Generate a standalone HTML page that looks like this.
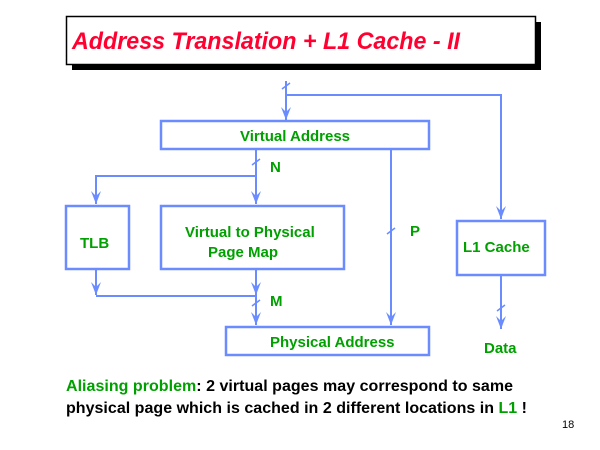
<!DOCTYPE html>
<html><head><style>
html,body{margin:0;padding:0;background:#fff;width:600px;height:450px;overflow:hidden}
svg{display:block}
text{font-family:"Liberation Sans",sans-serif;font-weight:bold}
</style></head><body>
<svg width="600" height="450" viewBox="0 0 600 450" xmlns="http://www.w3.org/2000/svg">
<defs>
<marker id="a" markerWidth="14" markerHeight="12" refX="13" refY="6" orient="auto" markerUnits="userSpaceOnUse">
<path d="M0,1 L13,6 L0,11 L5,6 Z" fill="#6a8cff"/>
</marker>
</defs>
<rect x="72" y="22" width="469" height="48" fill="#000"/>
<rect x="66.5" y="16.5" width="469" height="48" fill="#fff" stroke="#000" stroke-width="1.5"/>
<text x="72" y="49" font-size="24" font-style="italic" fill="#ff0030" textLength="388" lengthAdjust="spacingAndGlyphs">Address Translation + L1 Cache - II</text>
<g stroke="#6a8cff" stroke-width="2" fill="none">
<rect x="161" y="121" width="268" height="28" stroke-width="2.5"/>
<rect x="66" y="206" width="63" height="63" stroke-width="2.5"/>
<rect x="161" y="206" width="183" height="63" stroke-width="2.5"/>
<rect x="457" y="221" width="88" height="54" stroke-width="2.5"/>
<rect x="226" y="327" width="203" height="28" stroke-width="2.5"/>
<line x1="286" y1="81" x2="286" y2="120" marker-end="url(#a)"/>
<polyline points="286,95 501,95 501,219" marker-end="url(#a)"/>
<line x1="256" y1="149" x2="256" y2="204" marker-end="url(#a)"/>
<polyline points="256,176 96,176 96,204" marker-end="url(#a)"/>
<line x1="96" y1="269" x2="96" y2="295" marker-end="url(#a)"/>
<line x1="96" y1="296" x2="256" y2="296"/>
<line x1="256" y1="269" x2="256" y2="295" marker-end="url(#a)"/>
<line x1="256" y1="295" x2="256" y2="325" marker-end="url(#a)"/>
<line x1="391" y1="149" x2="391" y2="325" marker-end="url(#a)"/>
<line x1="501" y1="275" x2="501" y2="329" marker-end="url(#a)"/>
<line x1="282" y1="89" x2="290" y2="83" stroke-width="1.5"/>
<line x1="252" y1="165" x2="260" y2="159" stroke-width="1.5"/>
<line x1="387" y1="234" x2="395" y2="228" stroke-width="1.5"/>
<line x1="252" y1="306" x2="260" y2="300" stroke-width="1.5"/>
<line x1="497" y1="311" x2="505" y2="305" stroke-width="1.5"/>
</g>
<g fill="#00a000" font-size="15">
<text x="295" y="141" text-anchor="middle">Virtual Address</text>
<text x="270" y="172">N</text>
<text x="80" y="248">TLB</text>
<text x="185" y="237">Virtual to Physical</text>
<text x="208" y="257">Page Map</text>
<text x="410" y="236">P</text>
<text x="463" y="252">L1 Cache</text>
<text x="270" y="306">M</text>
<text x="270" y="347">Physical Address</text>
<text x="484" y="353">Data</text>
</g>
<g font-size="16" fill="#000">
<text x="66" y="391" textLength="447" lengthAdjust="spacing"><tspan fill="#00a000">Aliasing problem</tspan>: 2 virtual pages may correspond to same</text>
<text x="66" y="413" textLength="461" lengthAdjust="spacing">physical page which is cached in 2 different locations in <tspan fill="#00a000">L1</tspan> !</text>
</g>
<text x="562" y="428" font-size="11" style="font-weight:normal" fill="#000">18</text>
</svg>
</body></html>
